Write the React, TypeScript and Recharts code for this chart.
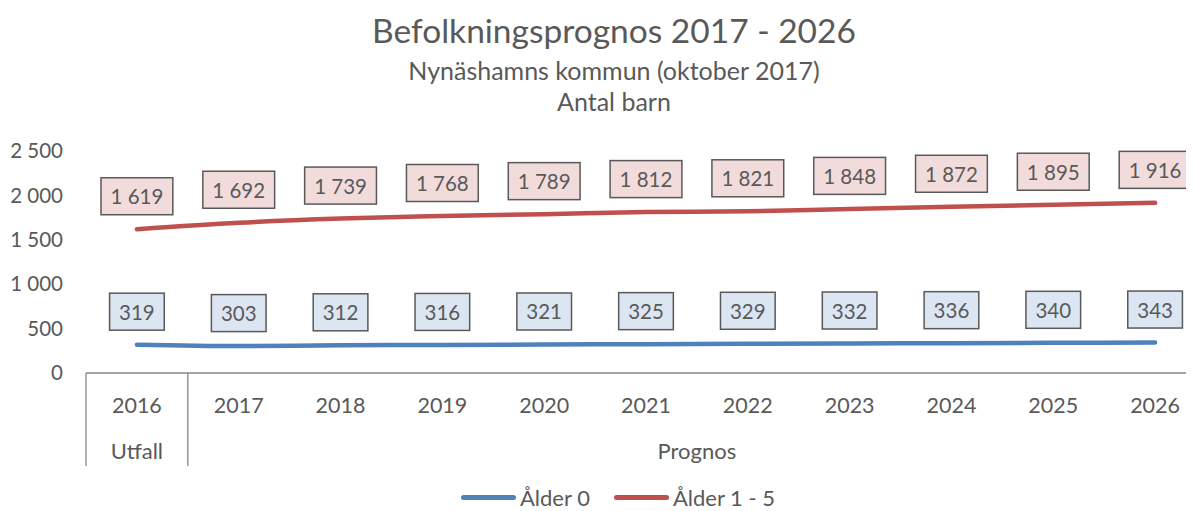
import React from 'react';
import { LineChart, Line, XAxis, YAxis, LabelList } from 'recharts';

const years = ['2016', '2017', '2018', '2019', '2020', '2021', '2022', '2023', '2024', '2025', '2026'];
const groups = ['Utfall', 'Prognos', 'Prognos', 'Prognos', 'Prognos', 'Prognos', 'Prognos', 'Prognos', 'Prognos', 'Prognos', 'Prognos'];
const alder0 = [319, 303, 312, 316, 321, 325, 329, 332, 336, 340, 343];
const alder15 = [1619, 1692, 1739, 1768, 1789, 1812, 1821, 1848, 1872, 1895, 1916];
const yTicks = [0, 500, 1000, 1500, 2000, 2500];

const seriesNames = ['Ålder 0', 'Ålder 1 - 5'];
const seriesColors = ['#4F81BD', '#C0504D'];
const labelFills = ['#DCE6F2', '#F2DCDB'];

const title = 'Befolkningsprognos 2017 - 2026';
const subtitle1 = 'Nynäshamns kommun (oktober 2017)';
const subtitle2 = 'Antal barn';

const data = years.map((y, i) => ({ year: y, group: groups[i], a0: alder0[i], a15: alder15[i] }));

const FONT = 'Lato, "Open Sans", sans-serif';
const TEXT = '#595959';
const AXIS = '#868686';

const fmt = (v: number) => String(v).replace(/\B(?=(\d{3})+(?!\d))/g, ' ');

let canvasCtx: CanvasRenderingContext2D | null = null;
const measure = (s: string, size: number) => {
  if (!canvasCtx) canvasCtx = document.createElement('canvas').getContext('2d');
  if (!canvasCtx) return s.length * size * 0.55;
  canvasCtx.font = `${size}px Lato`;
  return canvasCtx.measureText(s).width;
};

const makeLabel = (fill: string) => (props: any) => {
  const { x, y, value } = props;
  const txt = fmt(Number(value));
  const fs = 20.5;
  const w = measure(txt, fs) + 19;
  const h = 37;
  const cy = y - 33;
  return (
    <g>
      <rect x={x - w / 2} y={cy - h / 2} width={w} height={h} fill={fill} stroke="#595959" strokeWidth={1.5} />
      <text x={x} y={cy} textAnchor="middle" dominantBaseline="central" fontFamily={FONT} fontSize={fs} fill={TEXT}>
        {txt}
      </text>
    </g>
  );
};

const YearTick = (props: any) => {
  const { x, y, payload, index } = props;
  const half = payload && payload.offset ? payload.offset : 0;
  const g = groups[index];
  const isFirst = index === 0 || groups[index - 1] !== g;
  const isLast = index === groups.length - 1;
  const n = groups.filter((v) => v === g).length;
  return (
    <g>
      <text x={x} y={y + 32} textAnchor="middle" dominantBaseline="central" fontFamily={FONT} fontSize={21.5} fill={TEXT}>
        {payload.value}
      </text>
      {isFirst && (
        <>
          <line x1={x - half} x2={x - half} y1={y} y2={y + 93} stroke={AXIS} strokeWidth={1.3} />
          <text x={x - half + n * half} y={y + 77} textAnchor="middle" dominantBaseline="central" fontFamily={FONT} fontSize={22} fill={TEXT}>
            {g}
          </text>
        </>
      )}
      {isLast && <line x1={x + half} x2={x + half} y1={y} y2={y + 93} stroke={AXIS} strokeWidth={1.3} />}
    </g>
  );
};

export default function App() {
  return (
    <div style={{ position: 'relative', width: 1186, height: 503, overflow: 'hidden', fontFamily: FONT, color: TEXT }}>
      <div style={{ position: 'absolute', left: 0, width: 1212, top: 2, textAlign: 'center', fontSize: 33.5, lineHeight: '40px' }}>{title}</div>
      <div style={{ position: 'absolute', left: 0, width: 1212, top: 47, textAlign: 'center', fontSize: 25, lineHeight: '30px' }}>{subtitle1}</div>
      <div style={{ position: 'absolute', left: 0, width: 1212, top: 78, textAlign: 'center', fontSize: 25, lineHeight: '30px' }}>{subtitle2}</div>
      <LineChart width={1210} height={503} data={data} margin={{ top: 143, right: 12, bottom: 43, left: 0 }}>
        <XAxis
          dataKey="year"
          scale="band"
          height={95}
          tickSize={0}
          tickMargin={0}
          tickLine={false}
          axisLine={{ stroke: AXIS, strokeWidth: 1.3 }}
          tick={<YearTick />}
          interval={0}
        />
        <YAxis
          domain={[0, 2500]}
          ticks={yTicks}
          width={78}
          axisLine={false}
          tickLine={false}
          tickSize={0}
          tickMargin={23}
          tickFormatter={fmt}
          tick={{ fontFamily: FONT, fontSize: 20.5, fill: TEXT }}
        />
        <Line type="monotone" dataKey="a0" name={seriesNames[0]} stroke={seriesColors[0]} strokeWidth={4.5} strokeLinecap="round" dot={false} isAnimationActive={false}>
          <LabelList dataKey="a0" content={makeLabel(labelFills[0])} />
        </Line>
        <Line type="monotone" dataKey="a15" name={seriesNames[1]} stroke={seriesColors[1]} strokeWidth={4.5} strokeLinecap="round" dot={false} isAnimationActive={false}>
          <LabelList dataKey="a15" content={makeLabel(labelFills[1])} />
        </Line>
      </LineChart>
      <div style={{ position: 'absolute', top: 476, left: 453, display: 'flex', alignItems: 'center', fontSize: 22 }}>
        {seriesNames.map((n, i) => (
          <div key={n} style={{ display: 'flex', alignItems: 'center', marginRight: 24 }}>
            <div style={{ width: 55, height: 5, borderRadius: 3, background: seriesColors[i], marginRight: 4 }} />
            <span>{n}</span>
          </div>
        ))}
      </div>
    </div>
  );
}
